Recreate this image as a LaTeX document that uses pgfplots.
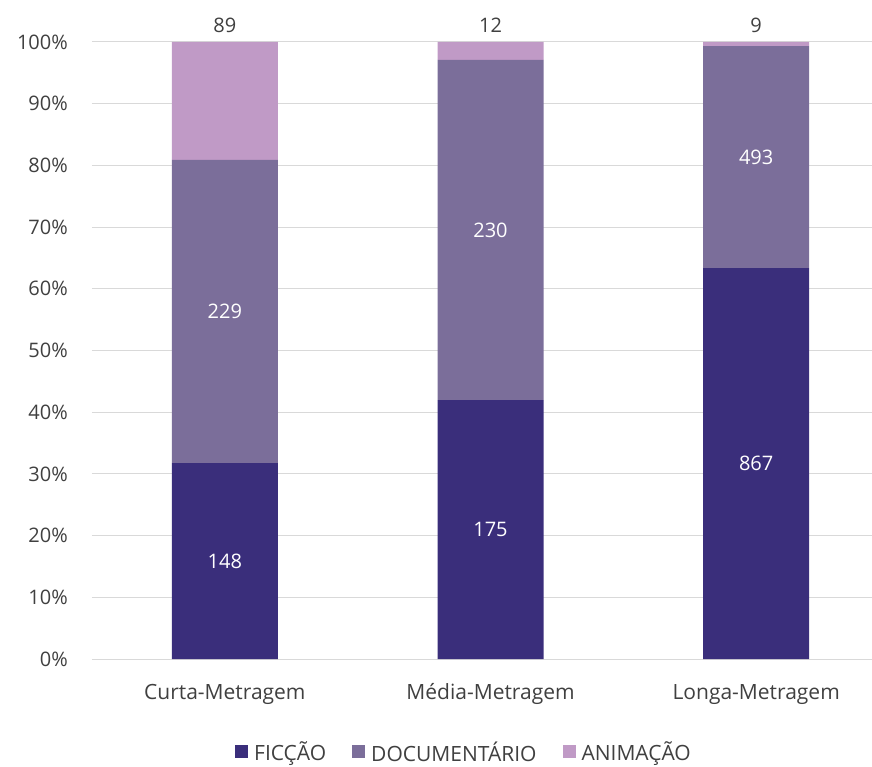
\documentclass[border=0pt]{standalone}
\usepackage{pgfplots}
\pgfplotsset{compat=1.18}
\usepackage{pgfplotstable}
\usepackage{fontspec}
\setmainfont{Open Sans}
\definecolor{cfic}{HTML}{3A2E7B}
\definecolor{cdoc}{HTML}{7B6E9A}
\definecolor{cani}{HTML}{C09AC6}
\definecolor{ctxt}{HTML}{404040}
\definecolor{cgrid}{HTML}{D9D9D9}
\pgfplotstableread{
x fic doc ani tot
0 148 229 89 466
1 175 230 12 417
2 867 493 9 1369
}\data
\newcommand\f{\fontsize{20}{24}\selectfont}
\newcommand\fl{\fontsize{21}{25}\selectfont}
\begin{document}
\begin{tikzpicture}
\useasboundingbox (0pt,0pt) rectangle (872pt,766pt);
\pgfplotsset{base/.style={
  at={(92pt,107pt)}, anchor=south west, scale only axis, width=797pt, height=617pt,
  xmin=-0.5, xmax=2.5, ymin=0, ymax=100,
}}
\begin{axis}[base, ybar stacked, bar width=106pt,
  xtick={0,1,2}, xticklabels={Curta-Metragem,Média-Metragem,Longa-Metragem},
  ytick={0,10,...,100},
  yticklabel={\pgfmathprintnumber[assume math mode=true]{\tick}\%},
  major tick length=0pt,
  axis line style={draw=none},
  ymajorgrids, grid style={cgrid, line width=1pt},
  tick label style={font=\f, text=ctxt},
  yticklabel style={anchor=east, inner sep=0pt, xshift=-24pt},
  xticklabel style={font=\fl, anchor=base, inner sep=0pt, yshift=-40pt},
  legend style={at={(0.4655,-0.1507)}, anchor=center, draw=none, legend columns=-1,
    font=\fl, text=ctxt, nodes={inner sep=0pt},
    /tikz/every odd column/.append style={column sep=6pt},
    /tikz/every even column/.append style={column sep=26pt}},
  legend image code/.code={\fill[#1] (0pt,-6.5pt) rectangle (13pt,6.5pt);},
]
\addplot[fill=cfic, draw=none] table[x=x, y expr=\thisrow{fic}/\thisrow{tot}*100] {\data};
\addplot[fill=cdoc, draw=none] table[x=x, y expr=\thisrow{doc}/\thisrow{tot}*100] {\data};
\addplot[fill=cani, draw=none] table[x=x, y expr=\thisrow{ani}/\thisrow{tot}*100] {\data};
\legend{FICÇÃO, DOCUMENTÁRIO, ANIMAÇÃO}
\end{axis}
\begin{axis}[base, axis lines=none, ticks=none, clip=false]
\addplot[draw=none, mark=none, nodes near coords={\pgfplotspointmeta}, point meta=explicit symbolic,
  every node near coord/.style={font=\f, text=white, anchor=center, inner sep=0pt}]
  table[x=x, y expr=\thisrow{fic}/2/\thisrow{tot}*100, meta=fic] {\data};
\addplot[draw=none, mark=none, nodes near coords={\pgfplotspointmeta}, point meta=explicit symbolic,
  every node near coord/.style={font=\f, text=white, anchor=center, inner sep=0pt}]
  table[x=x, y expr=(\thisrow{fic}+\thisrow{doc}/2)/\thisrow{tot}*100, meta=doc] {\data};
\addplot[draw=none, mark=none, nodes near coords={\pgfplotspointmeta}, point meta=explicit symbolic,
  every node near coord/.style={font=\f, text=ctxt, anchor=base, inner sep=0pt, yshift=9pt}]
  table[x=x, y expr=(\thisrow{fic}+\thisrow{doc}+\thisrow{ani})/\thisrow{tot}*100, meta=ani] {\data};
\end{axis}
\end{tikzpicture}
\end{document}
